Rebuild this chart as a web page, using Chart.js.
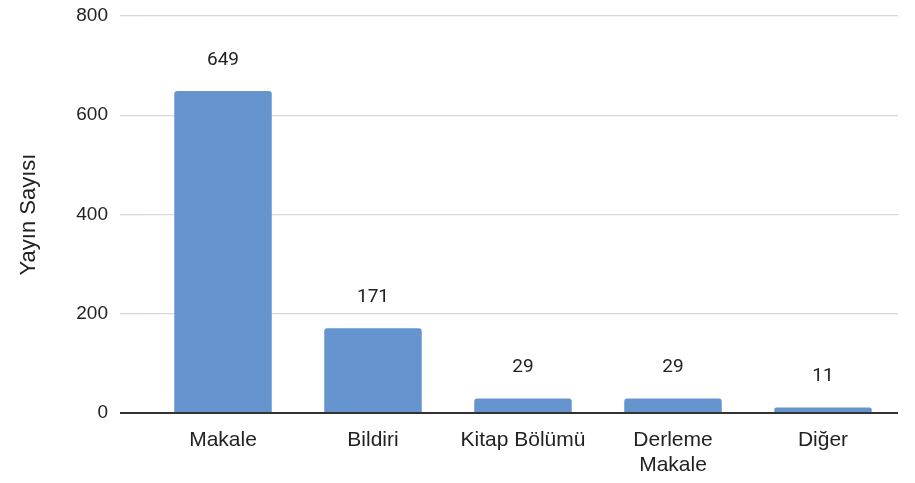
<!DOCTYPE html>
<html>
<head>
<meta charset="utf-8">
<script src="https://cdn.jsdelivr.net/npm/chart.js@4"></script>
<style>
    html, body { margin: 0; padding: 0; background: #fff; }
    #wrap { width: 915px; height: 483px; }
</style>
</head>
<body>
<div id="wrap"><canvas id="chart" width="915" height="483"></canvas></div>
<script>
const categories = [['Makale'], ['Bildiri'], ['Kitap Bölümü'], ['Derleme', 'Makale'], ['Diğer']];
const counts = [649, 171, 29, 29, 11];
const yTicks = [0, 200, 400, 600, 800];

// value labels above bars
const valueLabels = {
    id: 'valueLabels',
    afterDatasetsDraw(chart) {
        const ctx = chart.ctx;
        const meta = chart.getDatasetMeta(0);
        ctx.save();
        ctx.font = '19px Roboto';
        ctx.fillStyle = '#222';
        ctx.textAlign = 'center';
        ctx.textBaseline = 'middle';
        meta.data.forEach((bar, i) => {
            ctx.fillText(String(counts[i]), bar.x, bar.y - 31);
        });
        ctx.restore();
    }
};

new Chart(document.getElementById('chart'), {
    type: 'bar',
    data: {
        labels: categories,
        datasets: [{
            data: counts,
            backgroundColor: '#6594cf',
            borderRadius: { topLeft: 3, topRight: 3 },
            borderSkipped: 'bottom',
            barPercentage: 0.65,
            categoryPercentage: 1
        }]
    },
    options: {
        responsive: false,
        animation: false,
        layout: { autoPadding: false, padding: { top: 16, right: 17, bottom: 0, left: 0 } },
        plugins: {
            legend: { display: false },
            tooltip: { enabled: false }
        },
        scales: {
            x: {
                afterFit(scale) { scale.height = 483 - 413; },
                grid: { display: false, drawTicks: false },
                border: { display: false },
                ticks: {
                    color: '#222',
                    font: { family: 'Liberation Sans', size: 21, lineHeight: 1.22 },
                    padding: 14,
                    maxRotation: 0,
                    autoSkip: false
                }
            },
            y: {
                min: 0,
                max: 800,
                afterFit(scale) {
                    scale.width = 148;
                    scale.paddingTop = 0;
                    scale.paddingBottom = 0;
                },
                afterBuildTicks(scale) { scale.ticks = yTicks.map(v => ({ value: v })); },
                border: { display: false },
                grid: {
                    color: c => c.tick && c.tick.value === 0 ? '#333' : '#dcd6d4',
                    lineWidth: c => c.tick && c.tick.value === 0 ? 2 : 1.3,
                    tickLength: 28
                },
                ticks: {
                    color: '#222',
                    font: { family: 'Liberation Sans', size: 19 },
                    padding: 12
                },
                title: {
                    display: true,
                    text: 'Yayın Sayısı',
                    color: '#222',
                    font: { family: 'Liberation Sans', size: 22 },
                    padding: { top: 16, bottom: 18 }
                }
            }
        }
    },
    plugins: [valueLabels]
});
</script>
</body>
</html>
